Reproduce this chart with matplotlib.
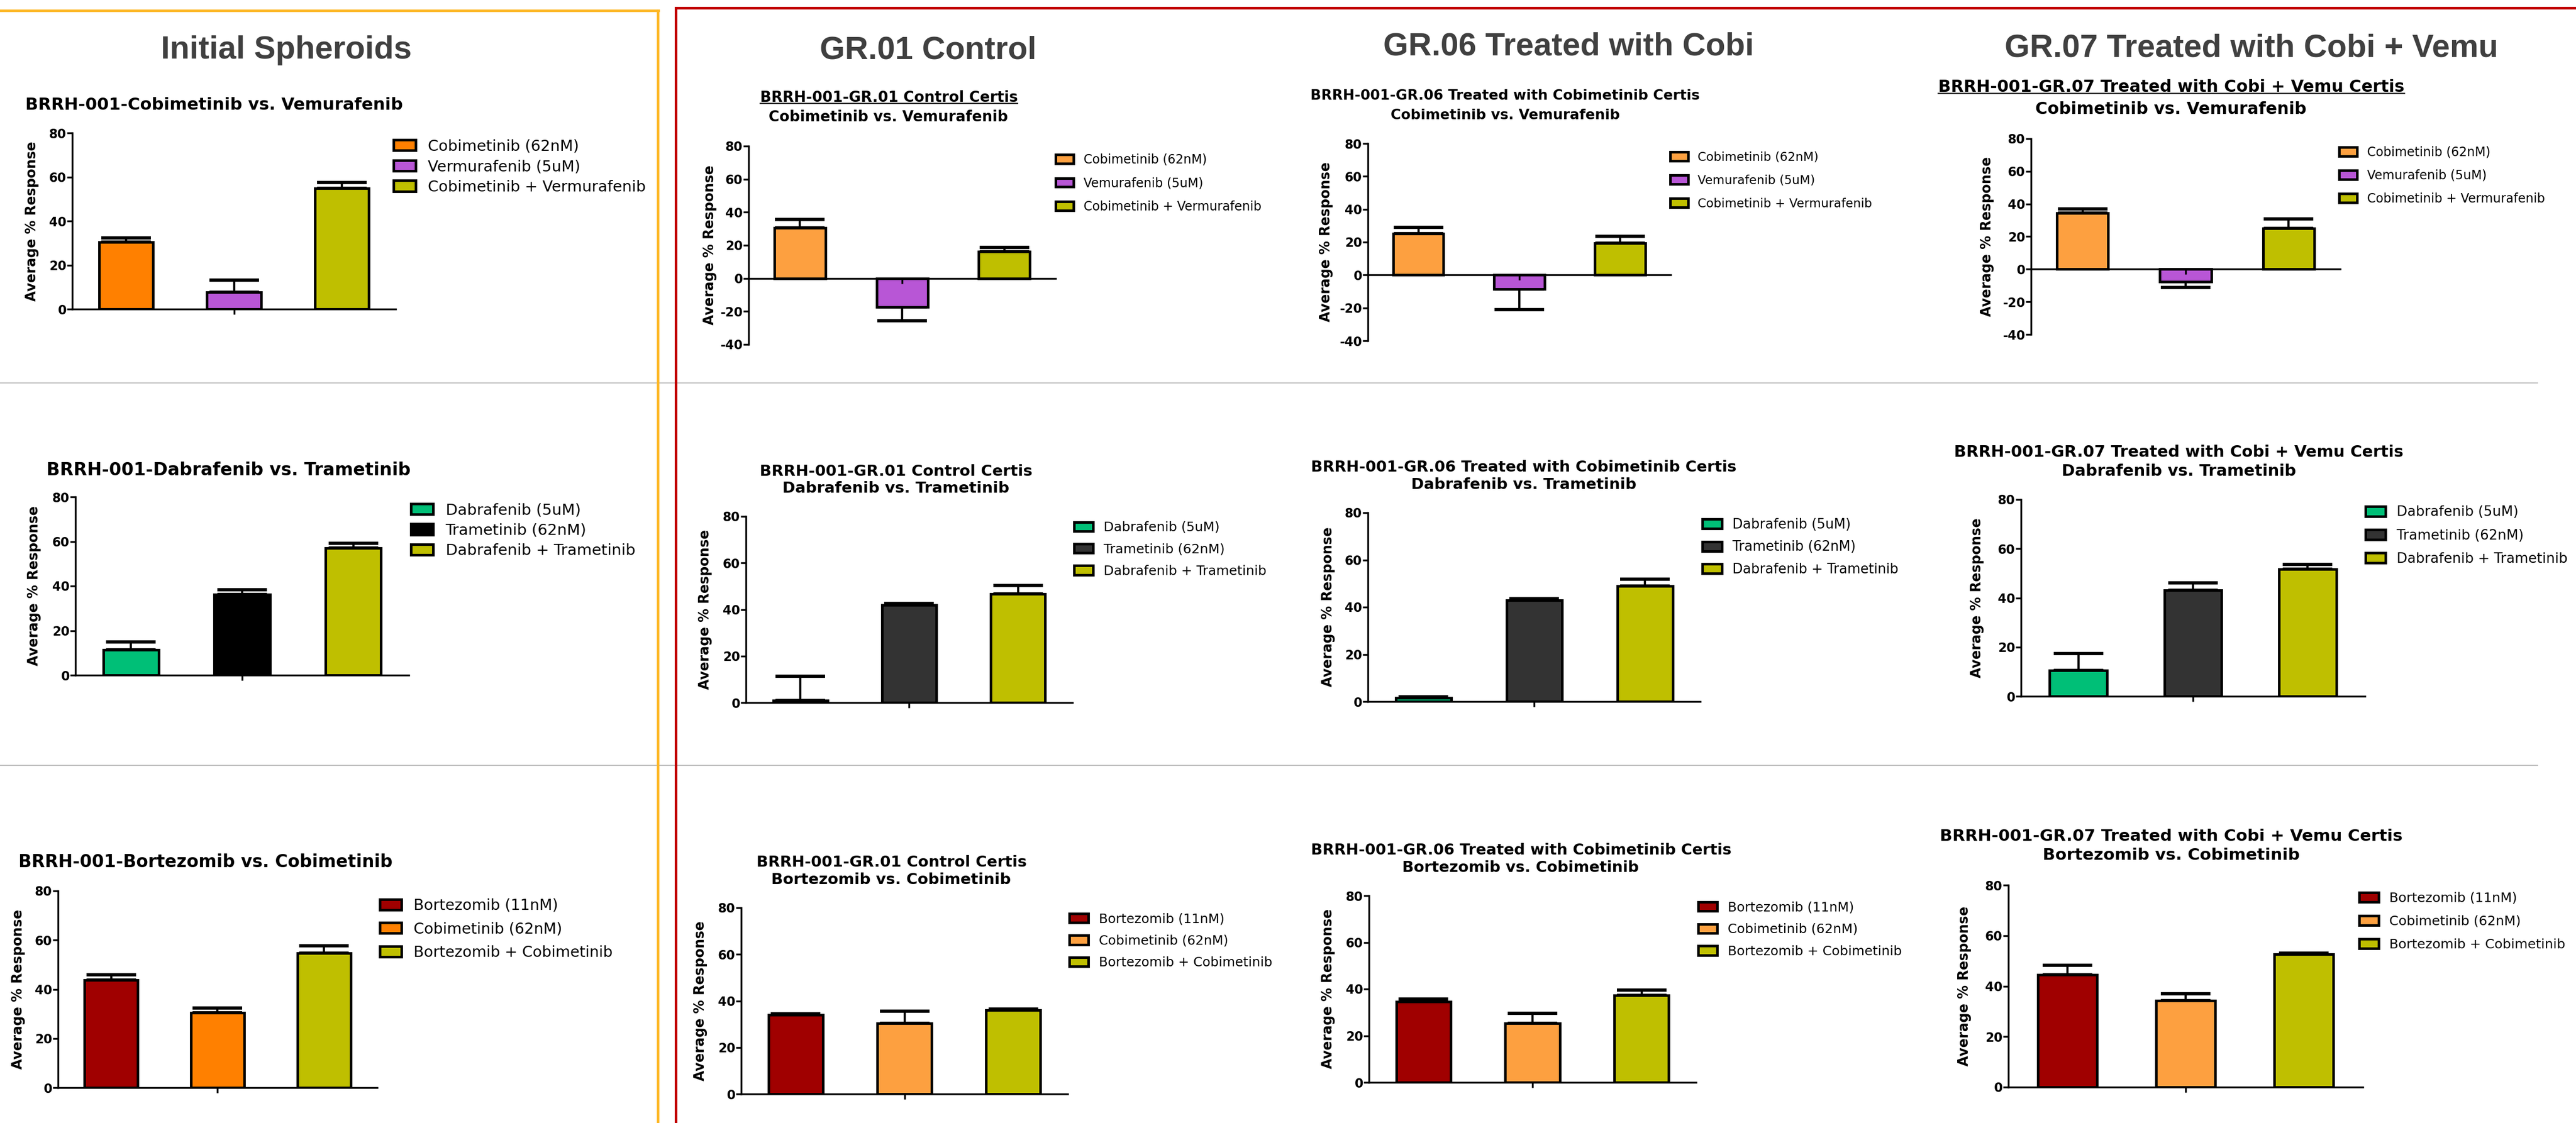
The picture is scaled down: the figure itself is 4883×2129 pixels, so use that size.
import matplotlib.pyplot as plt
from matplotlib.lines import Line2D

W, H = 4883, 2129

# ---- data ----
col_titles = ["Initial Spheroids", "GR.01 Control", "GR.06 Treated with Cobi",
              "GR.07 Treated with Cobi + Vemu"]
gr_titles = ["BRRH-001-GR.01 Control Certis",
             "BRRH-001-GR.06 Treated with Cobimetinib Certis",
             "BRRH-001-GR.07 Treated with Cobi + Vemu Certis"]
comparisons = ["Cobimetinib vs. Vemurafenib", "Dabrafenib vs. Trametinib",
               "Bortezomib vs. Cobimetinib"]

cv_initial_labels = ["Cobimetinib (62nM)", "Vermurafenib (5uM)", "Cobimetinib + Vermurafenib"]
cv_gr_labels = ["Cobimetinib (62nM)", "Vemurafenib (5uM)", "Cobimetinib + Vermurafenib"]
dt_labels = ["Dabrafenib (5uM)", "Trametinib (62nM)", "Dabrafenib + Trametinib"]
bc_labels = ["Bortezomib (11nM)", "Cobimetinib (62nM)", "Bortezomib + Cobimetinib"]

cv_initial_mean = [30.5, 7.7, 54.8]
cv_initial_err = [1.8, 5.4, 2.7]
cv_gr01_mean = [30.5, -17.2, 16.2]
cv_gr01_err = [5.1, 8.4, 2.6]
cv_gr06_mean = [25.2, -8.7, 19.4]
cv_gr06_err = [3.9, 12.4, 4.0]
cv_gr07_mean = [34.4, -7.8, 25.0]
cv_gr07_err = [2.5, 3.3, 5.8]

dt_initial_mean = [11.3, 36.2, 57.0]
dt_initial_err = [3.7, 2.1, 2.2]
dt_gr01_mean = [1.0, 41.9, 46.6]
dt_gr01_err = [10.3, 0.6, 3.6]
dt_gr06_mean = [1.5, 42.8, 49.0]
dt_gr06_err = [0.5, 0.8, 2.8]
dt_gr07_mean = [10.5, 43.2, 51.7]
dt_gr07_err = [6.9, 2.9, 2.0]

bc_initial_mean = [43.8, 30.5, 54.6]
bc_initial_err = [2.1, 1.8, 3.0]
bc_gr01_mean = [33.9, 30.4, 36.0]
bc_gr01_err = [0.6, 5.2, 0.6]
bc_gr06_mean = [34.5, 25.4, 37.2]
bc_gr06_err = [1.1, 4.1, 2.3]
bc_gr07_mean = [44.4, 34.2, 52.6]
bc_gr07_err = [3.9, 2.7, 0.4]

# ---- colours ----
ORANGE, LORANGE, PURPLE, OLIVE = "#FF8000", "#FDA040", "#B856D6", "#BFBF00"
GREEN, DRED = "#00BF77", "#A00000"
colors_cv_initial = [ORANGE, PURPLE, OLIVE]
colors_cv_gr = [LORANGE, PURPLE, OLIVE]
colors_dt_initial = [GREEN, "#000000", OLIVE]
colors_dt_gr = [GREEN, "#333333", OLIVE]
colors_bc_initial = [DRED, ORANGE, OLIVE]
colors_bc_gr = [DRED, LORANGE, OLIVE]

plt.rcParams["font.family"] = "DejaVu Sans"
plt.rcParams["axes.unicode_minus"] = False

fig = plt.figure(figsize=(W / 100, H / 100), dpi=100)


def fx(px):
    return px / W


def fy(py):
    return 1 - py / H


# frames and separators
for y in (726, 1451):
    fig.add_artist(Line2D([0, fx(4810)], [fy(y), fy(y)], color="#BFBFBF", lw=1.5))
fig.add_artist(Line2D([0, fx(1248)], [fy(20), fy(20)], color="#FDB827", lw=3.5))
fig.add_artist(Line2D([fx(1247), fx(1247)], [fy(20), 0], color="#FDB827", lw=3.5))
fig.add_artist(Line2D([fx(1281), 1], [fy(15), fy(15)], color="#C00000", lw=3.5))
fig.add_artist(Line2D([fx(1281), fx(1281)], [fy(15), 0], color="#C00000", lw=3.5))

# column headers
for title, cx, cy in zip(col_titles, [543, 1759, 2973, 4268], [96, 96, 89, 92]):
    fig.text(fx(cx), fy(cy), title, ha="center", va="center", fontsize=44,
             fontweight="bold", color="#404040", family="Liberation Sans")

underlined = []


def panel(rect, means, errs, labels, colors, ymin, title_lines, lay):
    left, right, ytop, ybot = rect
    ax = fig.add_axes([fx(left), fy(ybot), (right - left) / W, (ybot - ytop) / H])
    x = list(range(len(means)))
    bars = ax.bar(x, means, width=0.5, color=colors, edgecolor="black", linewidth=3.5)
    lower = [e if m < 0 else 0 for m, e in zip(means, errs)]
    upper = [e if m >= 0 else 0 for m, e in zip(means, errs)]
    ax.errorbar(x, means, yerr=[lower, upper], fmt="none", ecolor="black",
                elinewidth=3, capsize=34, capthick=4.5, zorder=0.5, clip_on=False)

    ax.set_xlim(-0.5, 2.5)
    ax.set_ylim(ymin, 80)
    ax.spines[["top", "right"]].set_visible(False)
    ax.spines["bottom"].set_position(("data", 0))
    for s in ("left", "bottom"):
        ax.spines[s].set_linewidth(2.5)
    ax.set_xticks([1])
    ax.set_xticklabels([])
    ax.set_yticks(range(ymin, 81, 20))
    ax.tick_params(axis="y", length=7, width=2.5, pad=1, labelsize=17)
    ax.tick_params(axis="x", length=7, width=2.5)
    for t in ax.get_yticklabels():
        t.set_fontweight("bold")
    ax.set_ylabel("Average % Response", fontsize=18.5, fontweight="bold")
    ax.yaxis.set_label_coords(-(lay["yl_off"] - 15) / (right - left), 0.5)

    fs = lay["leg_fs"]
    fs_px = fs * 100 / 72
    lx, ly = lay["leg"]
    ax.legend(bars.patches, labels, loc="upper left",
              bbox_to_anchor=(fx(lx), fy(ly - 0.4 * fs_px)),
              bbox_transform=fig.transFigure, frameon=False, fontsize=fs,
              borderpad=0, borderaxespad=0, handlelength=1.45, handleheight=0.7,
              handletextpad=0.8, labelspacing=lay["pitch"] / fs_px - 0.95)

    for i, (text, (tx, ty)) in enumerate(zip(title_lines, lay["title_pos"])):
        t = fig.text(fx(tx), fy(ty), text, ha="center", va="center",
                     fontsize=lay["title_fs"], fontweight="bold")
        if i == 0 and lay.get("underline"):
            underlined.append(t)
    return ax


# ---- layout (pixel positions in the 4883x2129 canvas) ----
layouts = [
    # row 1
    dict(rect=(137, 750, 252, 586), yl_off=78, leg=(746, 275), leg_fs=20.8, pitch=38,
         title_pos=[(406, 200)], title_fs=23),
    dict(rect=(1419, 2001, 277, 653), yl_off=75, leg=(2001, 300), leg_fs=17, pitch=43,
         title_pos=[(1685, 185), (1684, 222)], title_fs=20, underline=True),
    dict(rect=(2593, 3167, 272, 646), yl_off=81, leg=(3166, 296), leg_fs=16.7, pitch=43,
         title_pos=[(2853, 182), (2853, 219)], title_fs=19.2),
    dict(rect=(3850, 4436, 263, 634), yl_off=85, leg=(4434, 286), leg_fs=17, pitch=42.5,
         title_pos=[(4116, 165), (4115, 208)], title_fs=22.7, underline=True),
    # row 2
    dict(rect=(143, 775, 942, 1280), yl_off=80, leg=(779, 965), leg_fs=21, pitch=38,
         title_pos=[(433, 891)], title_fs=24),
    dict(rect=(1414, 2033, 979, 1332), yl_off=79, leg=(2036, 998), leg_fs=18, pitch=41,
         title_pos=[(1698, 894), (1698, 926)], title_fs=21.2),
    dict(rect=(2593, 3223, 972, 1330), yl_off=77, leg=(3227, 992), leg_fs=18.4, pitch=41,
         title_pos=[(2888, 886), (2888, 919)], title_fs=21),
    dict(rect=(3831, 4483, 947, 1320), yl_off=85, leg=(4484, 969), leg_fs=18.9, pitch=43,
         title_pos=[(4130, 857), (4130, 893)], title_fs=21.9),
    # row 3
    dict(rect=(110, 715, 1689, 2062), yl_off=77, leg=(720, 1714), leg_fs=20.5, pitch=43.5,
         title_pos=[(390, 1634)], title_fs=23.6),
    dict(rect=(1405, 2024, 1721, 2074), yl_off=79, leg=(2027, 1740), leg_fs=17.8, pitch=41,
         title_pos=[(1690, 1635), (1689, 1668)], title_fs=21),
    dict(rect=(2595, 3215, 1698, 2052), yl_off=79, leg=(3219, 1718), leg_fs=17.9, pitch=41.5,
         title_pos=[(2884, 1612), (2882, 1645)], title_fs=20.8),
    dict(rect=(3807, 4479, 1678, 2061), yl_off=85, leg=(4472, 1701), leg_fs=18.2, pitch=44,
         title_pos=[(4116, 1585), (4116, 1622)], title_fs=22.5),
]

rows = [
    (cv_initial_labels, cv_gr_labels, colors_cv_initial, colors_cv_gr, -40,
     [(cv_initial_mean, cv_initial_err), (cv_gr01_mean, cv_gr01_err),
      (cv_gr06_mean, cv_gr06_err), (cv_gr07_mean, cv_gr07_err)]),
    (dt_labels, dt_labels, colors_dt_initial, colors_dt_gr, 0,
     [(dt_initial_mean, dt_initial_err), (dt_gr01_mean, dt_gr01_err),
      (dt_gr06_mean, dt_gr06_err), (dt_gr07_mean, dt_gr07_err)]),
    (bc_labels, bc_labels, colors_bc_initial, colors_bc_gr, 0,
     [(bc_initial_mean, bc_initial_err), (bc_gr01_mean, bc_gr01_err),
      (bc_gr06_mean, bc_gr06_err), (bc_gr07_mean, bc_gr07_err)]),
]

for r, (lab0, lab_gr, col0, col_gr, gr_ymin, series) in enumerate(rows):
    for c, (means, errs) in enumerate(series):
        lay = layouts[r * 4 + c]
        if c == 0:
            panel(lay["rect"], means, errs, lab0, col0, 0,
                  ["BRRH-001-" + comparisons[r]], lay)
        else:
            panel(lay["rect"], means, errs, lab_gr, col_gr, gr_ymin,
                  [gr_titles[c - 1], comparisons[r]], lay)

# underline the titles that are underlined in the original
fig.canvas.draw()
renderer = fig.canvas.get_renderer()
for t in underlined:
    bb = t.get_window_extent(renderer)
    y = bb.y0 + 0.12 * t.get_fontsize() * 100 / 72
    fig.add_artist(Line2D([bb.x0 / W, bb.x1 / W], [y / H, y / H], color="black", lw=1.6))

fig.savefig("out.png", dpi=100)
